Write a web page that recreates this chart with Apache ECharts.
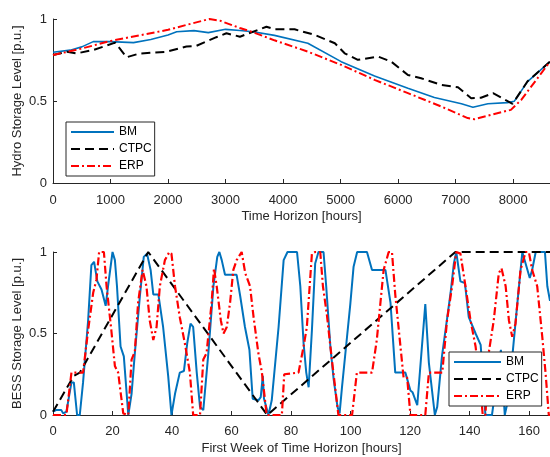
<!DOCTYPE html>
<html>
<head>
<meta charset="utf-8">
<script src="https://cdn.jsdelivr.net/npm/echarts@6/dist/echarts.min.js"></script>
<style>
  html, body { margin: 0; padding: 0; background: #fff; }
  #chart { width: 550px; height: 457px; }
</style>
</head>
<body>
<div id="chart"></div>
<script>
// ---- data ----
var seriesNames = ['BM', 'CTPC', 'ERP'];

// top: hydro storage over the year, [hour, p.u.]
var hydroBM = [[0,0.797],[300,0.81],[500,0.83],[700,0.862],[1000,0.862],[1400,0.856],[1700,0.875],[2000,0.903],
  [2150,0.922],[2450,0.929],[2700,0.917],[3000,0.937],[3250,0.93],[3480,0.922],[3850,0.90],[4430,0.852],
  [5010,0.74],[5590,0.653],[6170,0.578],[6630,0.521],[7100,0.483],[7300,0.462],[7560,0.483],[7900,0.49],
  [8020,0.499],[8250,0.618],[8640,0.74]];
var hydroCTPC = [[0,0.781],[240,0.80],[410,0.79],[700,0.811],[1080,0.856],[1280,0.767],[1500,0.789],[1970,0.80],
  [2320,0.832],[2490,0.836],[2840,0.889],[3015,0.913],[3250,0.892],[3710,0.953],[3850,0.937],[4200,0.937],
  [4550,0.903],[4900,0.852],[5070,0.791],[5300,0.751],[5650,0.771],[5880,0.74],[6170,0.659],[6400,0.639],
  [6750,0.598],[7040,0.584],[7270,0.517],[7440,0.52],[7650,0.548],[7990,0.483],[8250,0.62],[8640,0.74]];
var hydroERP = [[0,0.78],[500,0.82],[1000,0.866],[1500,0.90],[2000,0.934],[2320,0.964],[2720,1.0],[2900,0.99],
  [3250,0.945],[3480,0.919],[3850,0.87],[4430,0.801],[5010,0.72],[5590,0.629],[6170,0.548],[6750,0.466],
  [7210,0.396],[7330,0.389],[7620,0.416],[7960,0.446],[8140,0.507],[8640,0.74]];

// bottom: BESS storage over first week, [hour, p.u.]
var bessBM = [[0,0.02],[1,0.03],[2.8,0.03],[3.4,0.01],[4.5,0.02],[6.2,0.2],[7,0.2],[8.1,0],[9,0],[10.1,0.2],
  [11.8,0.58],[12.9,0.92],[13.8,0.94],[14.9,0.82],[16.3,0.77],[17.7,0.67],[18.5,0.79],[20,1.0],[20.8,0.95],
  [21.5,0.79],[22.7,0.42],[23.8,0.36],[25.3,0],[26.4,0.13],[27.5,0.38],[29.2,0.73],[30.5,0.97],[31.6,0.99],
  [32.8,0.89],[33.7,0.74],[35.4,0.74],[37,0.54],[38.7,0.24],[39.8,0],[41,0.13],[42.6,0.26],[44,0.27],
  [45.1,0.44],[46.2,0.56],[47.1,0.54],[48.3,0.26],[49.4,0.05],[50.5,0.03],[52.2,0.38],[53.9,0.79],[55.2,0.97],
  [55.9,1.0],[56.7,0.95],[57.8,0.86],[61.7,0.86],[62.9,0.73],[64.5,0.54],[66,0.4],[67.1,0.1],[69,0.09],
  [69.8,0.11],[70.5,0.24],[70.9,0.1],[72.4,0],[73.5,0.09],[75.8,0.54],[77.5,0.95],[78.8,1.0],[82,1.0],
  [83.1,0.79],[84.2,0.44],[85.1,0.26],[85.9,0.17],[87,0.52],[88.1,0.93],[89.2,1.0],[90.9,1.0],[91.8,0.79],
  [93.2,0.42],[94.3,0.22],[95.6,0.05],[96.3,0.01],[97.1,0.17],[98.8,0.48],[99.9,0.68],[101,0.91],[102.2,1.0],
  [105.5,1.0],[107.2,0.89],[111.7,0.89],[113.4,0.69],[115,0.26],[118.4,0.26],[120.1,0.15],[120.8,0.14],
  [122.4,0.06],[125.1,0.68],[126.3,0.32],[128.3,0],[129.1,0.05],[130.7,0.36],[133.6,0.75],[134.7,0.93],
  [135.5,1.0],[136.9,0.82],[138.4,0.81],[139.7,0.6],[142,0.5],[143.7,0.43],[145.3,0],[147.5,0],[149,0.2],
  [150.5,0.4],[151.8,0],[153,0.1],[156,0.68],[157.7,1.0],[158.8,0.93],[160.2,0.84],[161,0.89],[162.2,1.0],
  [165.3,1.0],[166.1,0.79],[167,0.7]];
var bessCTPC = [[0,0.02],[7,0.24],[9,0.26],[32,1.0],[72,0],[135.2,1.0],[167,1.0]];
var bessERP = [[0,0],[4.5,0],[6.2,0.26],[10.1,0.26],[11.8,0.52],[13.5,0.75],[14.6,0.83],[15.5,1.0],[17.1,1.0],
  [18,0.79],[19.6,0.52],[20.8,0.3],[21.9,0.26],[23.6,0.01],[25.3,0],[26.4,0.34],[27.5,0.39],[28.6,0.69],
  [30.1,0.89],[31.4,0.79],[32.5,0.58],[33.7,0.46],[34.8,0.54],[35.9,0.79],[37.6,0.95],[39.1,1.0],[39.8,0.99],
  [41,0.79],[42.6,0.6],[44.3,0.44],[46,0.26],[47.1,0],[49.4,0],[50.5,0.34],[51.6,0.38],[53.3,0.69],[54.1,0.9],
  [55,0.79],[56.4,0.58],[57.3,0.5],[58.4,0.54],[59.5,0.69],[60.6,0.89],[61.7,0.95],[63.4,1.0],[64.6,0.87],
  [66.2,0.79],[67.4,0.6],[69,0.38],[70.2,0.26],[71.8,0],[76.9,0],[77.7,0.25],[82.5,0.26],[84.2,0.42],
  [85.3,0.54],[87,0.99],[88.1,1.0],[89.8,1.0],[90.7,0.79],[92,0.62],[93.7,0.34],[94.8,0.17],[95.9,0],
  [100.5,0],[102.1,0.26],[107.2,0.26],[108.8,0.46],[111.1,0.89],[112.8,1.0],[113.9,1.0],[115,0.74],
  [116.7,0.43],[117.8,0.23],[119,0.23],[120.1,0],[125.1,0],[126.3,0.26],[130.8,0.26],[132.4,0.58],
  [134.1,0.79],[135.5,1.0],[136.9,0.99],[138.6,0.79],[140.3,0.58],[142,0.42],[143.6,0.17],[144.4,0],
  [145.3,0],[146.4,0.38],[148.1,0.58],[149.8,0.87],[150.7,0.9],[152.1,0.79],[153.2,0.58],[154.3,0.48],
  [155.4,0.56],[157.1,0.89],[158.8,1.0],[159.9,1.0],[161,0.89],[162.7,0.79],[164.4,0.48],[165.5,0.26],
  [166.6,0],[167,0]];

var yTicks = ['0', '0.5', '1'];

// ---- styling ----
var ink = '#262626';
var font = '"Liberation Sans", Arial, Helvetica, sans-serif';
var styles = {
  BM:   { color: '#0072BD', type: 'solid' },
  CTPC: { color: '#000000', type: [9, 5] },
  ERP:  { color: '#FF0000', type: [8, 3, 2, 3] }
};

function lineSeries(name, data, idx, width) {
  return {
    name: name, type: 'line', data: data,
    xAxisIndex: idx, yAxisIndex: idx,
    symbol: 'none', animation: false,
    lineStyle: { color: styles[name].color, type: styles[name].type, width: width },
    itemStyle: { color: styles[name].color }
  };
}

function xAxis(idx, max, interval, name, margin) {
  return {
    type: 'value', gridIndex: idx, min: 0, max: max, interval: interval,
    name: name, nameLocation: 'middle', nameGap: 27,
    nameTextStyle: { color: ink, fontFamily: font, fontSize: 13 },
    axisLine: { lineStyle: { color: ink } },
    axisTick: { inside: true, length: 4, lineStyle: { color: ink } },
    axisLabel: { color: ink, fontFamily: font, fontSize: 13, margin: margin, showMaxLabel: false,
      formatter: function (v) { return String(v); } },
    splitLine: { show: false }
  };
}

function yAxis(idx, name) {
  return {
    type: 'value', gridIndex: idx, min: 0, max: 1, interval: 0.5,
    name: name, nameLocation: 'middle', nameGap: 29, nameMoveOverlap: false,
    nameTextStyle: { color: ink, fontFamily: font, fontSize: 13 },
    axisLine: { show: true, lineStyle: { color: ink } },
    axisTick: { show: true, inside: true, length: 4, lineStyle: { color: ink } },
    axisLabel: { color: ink, fontFamily: font, fontSize: 13, margin: 6,
      formatter: function (v) { return yTicks[Math.round(v * 2)]; } },
    splitLine: { show: false }
  };
}

function legend(left, top, itemWidth) {
  return {
    data: seriesNames, orient: 'vertical', left: left, top: top,
    itemWidth: itemWidth, itemHeight: 10, itemGap: 3,
    padding: [3, 3, 3, 4], borderColor: ink, borderWidth: 1, borderRadius: 0,
    backgroundColor: '#fff', selectedMode: false,
    itemStyle: { opacity: 0 },
    textStyle: { color: '#000', fontFamily: font, fontSize: 12, lineHeight: 14 }
  };
}

var chart = echarts.init(document.getElementById('chart'), null, { renderer: 'canvas' });
chart.setOption({
  animation: false,
  grid: [
    { left: 53, top: 19, right: 0, height: 164 },
    { left: 53, top: 252, right: 0, height: 163 }
  ],
  xAxis: [
    xAxis(0, 8640, 1000, 'Time Horizon [hours]', 11),
    xAxis(1, 167, 20, 'First Week of Time Horizon [hours]', 10)
  ],
  yAxis: [
    yAxis(0, 'Hydro Storage Level [p.u.]'),
    yAxis(1, 'BESS Storage Level [p.u.]')
  ],
  legend: [
    legend(66, 122, 43),
    legend(449, 352, 47)
  ],
  series: [
    lineSeries('BM', hydroBM, 0, 1.6),
    lineSeries('CTPC', hydroCTPC, 0, 2),
    lineSeries('ERP', hydroERP, 0, 2),
    lineSeries('BM', bessBM, 1, 2),
    lineSeries('CTPC', bessCTPC, 1, 2),
    lineSeries('ERP', bessERP, 1, 2.2)
  ]
});
</script>
</body>
</html>
